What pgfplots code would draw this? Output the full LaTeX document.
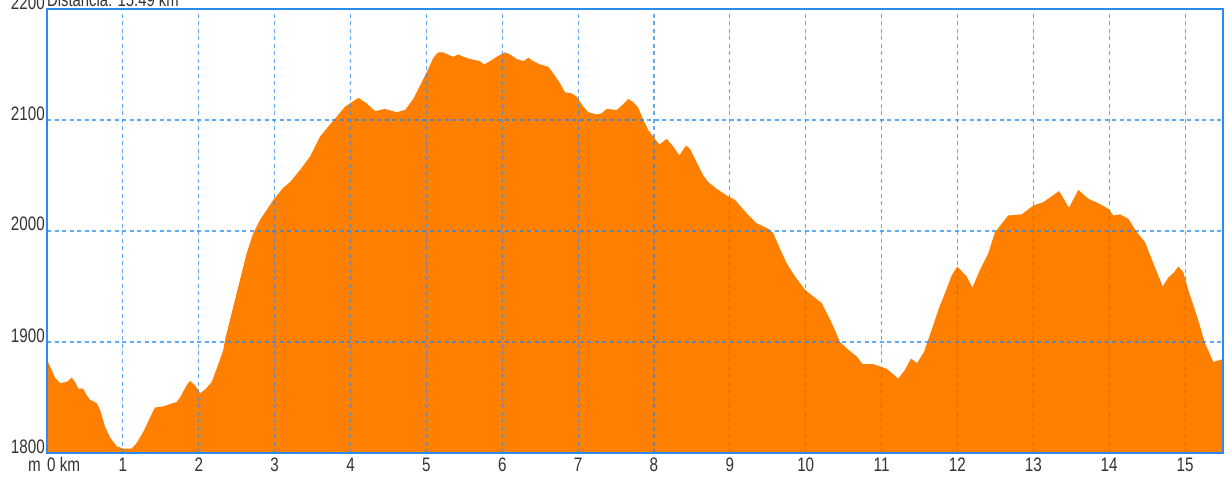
\documentclass[border=0pt]{standalone}
\usepackage{pgfplots}
\pgfplotsset{compat=1.18}
\usepackage{fontspec}
\setmainfont{Liberation Sans}[FakeStretch=0.78]
\definecolor{prof}{HTML}{FF8000}
\definecolor{gridblue}{HTML}{1E86F0}
\definecolor{axblue}{HTML}{2A8CF0}
\begin{document}
\begin{tikzpicture}
\begin{axis}[
  scale only axis,
  width=1176bp, height=444bp,
  xmin=0, xmax=15.5, ymin=1800, ymax=2200,
  xtick={1,2,3,4,5,6,7,8,9,10,11,12,13,14,15},
  xticklabels={1,2,3,4,5,6,7,8,9,10,11,12,13,14,15},
  ytick={1800,1900,2000,2100,2200},
  yticklabels={1800,1900,2000,2100,2200},
  major tick length=0pt,
  grid=major,
  grid style={color=gridblue, opacity=0.7, line width=1.1bp, dash pattern=on 4bp off 3.5bp},
  axis on top,
  axis line style={color=axblue, line width=1.3bp},
  tick label style={font=\fontsize{19.5bp}{22bp}\selectfont, text=black!80, inner sep=0pt},
  yticklabel style={anchor=base east, xshift=-2bp},
  xticklabel style={anchor=base, yshift=-18.5bp},
  clip=true,
]
\addplot[fill=prof, draw=none] table {
x y
0 1884
0.04 1878
0.105 1868
0.171 1863
0.26 1864
0.326 1868
0.369 1864
0.413 1858
0.478 1858
0.523 1852
0.567 1848
0.655 1845
0.699 1839
0.764 1824
0.83 1814
0.919 1806
1.006 1804
1.116 1804
1.182 1809
1.269 1819
1.358 1832
1.423 1841
1.533 1842
1.665 1845
1.71 1846
1.753 1850
1.841 1861
1.885 1865
1.951 1861
2.017 1854
2.083 1857
2.171 1864
2.258 1880
2.324 1893
2.346 1902
2.456 1932
2.544 1956
2.632 1980
2.719 1998
2.807 2010
2.896 2019
2.983 2028
3.115 2039
3.203 2044
3.335 2055
3.466 2067
3.598 2085
3.73 2096
3.818 2103
3.928 2112
4.103 2120
4.214 2115
4.323 2108
4.455 2110
4.609 2107
4.719 2109
4.828 2119
4.916 2131
5.005 2143
5.092 2156
5.157 2161
5.223 2161
5.312 2158
5.355 2157
5.421 2159
5.487 2157
5.575 2155
5.707 2153
5.76 2150
5.839 2153
5.927 2157
6.037 2161
6.103 2159
6.191 2155
6.278 2153
6.344 2156
6.41 2153
6.498 2150
6.607 2148
6.673 2142
6.762 2133
6.827 2125
6.916 2124
6.982 2121
7.069 2112
7.135 2107
7.245 2105
7.311 2106
7.377 2110
7.509 2109
7.575 2113
7.662 2119
7.728 2116
7.794 2111
7.859 2100
7.925 2091
7.991 2085
8.07 2078
8.168 2083
8.255 2076
8.334 2068
8.422 2077
8.475 2074
8.563 2062
8.65 2050
8.716 2044
8.827 2038
8.959 2032
9.068 2028
9.222 2016
9.354 2007
9.507 2002
9.573 1998
9.661 1984
9.749 1971
9.859 1959
9.991 1947
10.1 1941
10.211 1935
10.277 1926
10.364 1914
10.452 1900
10.561 1893
10.672 1887
10.751 1880
10.891 1880
10.979 1878
11.067 1876
11.154 1871
11.22 1867
11.309 1875
11.388 1885
11.467 1881
11.559 1891
11.66 1911
11.748 1929
11.858 1948
11.924 1960
11.998 1968
12.122 1959
12.196 1949
12.297 1965
12.407 1980
12.495 1999
12.67 2014
12.847 2015
13.0 2023
13.132 2026
13.339 2036
13.47 2021
13.593 2037
13.725 2029
13.857 2025
13.989 2020
14.055 2014
14.143 2015
14.252 2011
14.363 1999
14.472 1990
14.581 1971
14.705 1950
14.779 1958
14.845 1962
14.911 1968
14.976 1963
15.042 1947
15.153 1924
15.263 1899
15.372 1882
15.52 1885
} \closedcycle;
\end{axis}
\node[anchor=base west, inner sep=0pt, yshift=2bp, font=\fontsize{19bp}{22bp}\selectfont, text=black!80] at (current axis.north west) {Distancia: 15.49 km};
\node[anchor=base east, inner sep=0pt, xshift=-6bp, yshift=-18.5bp, font=\fontsize{19.5bp}{22bp}\selectfont, text=black!80] at (current axis.south west) {m};
\node[anchor=base west, inner sep=0pt, yshift=-18.5bp, font=\fontsize{19.5bp}{22bp}\selectfont, text=black!80] at (current axis.south west) {0 km};
\pgfresetboundingbox
\path[use as bounding box] (current axis.south west) ++(-47bp,-24bp) rectangle ++(1225bp,477bp);
\end{tikzpicture}
\end{document}
